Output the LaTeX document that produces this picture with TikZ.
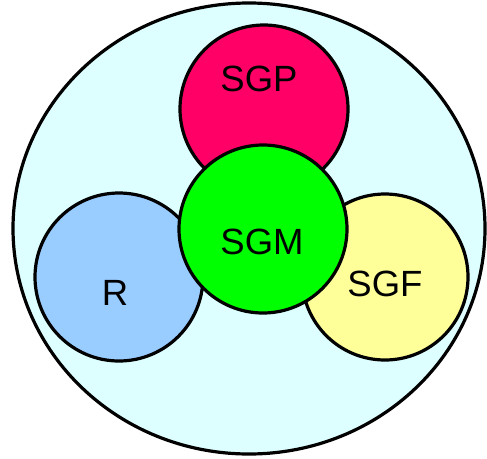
\documentclass[tikz,border=0pt]{standalone}
\usepackage{fontspec}
\setmainfont{Liberation Sans}
\usepackage{tikz}

\definecolor{outercyan}{RGB}{221,255,255}
\definecolor{sgpred}{RGB}{255,0,102}
\definecolor{sgmgreen}{RGB}{0,255,0}
\definecolor{rblue}{RGB}{153,204,255}
\definecolor{sgfyellow}{RGB}{255,255,153}

\tikzset{
  ball/.style={circle,draw=black,line width=3.2pt,minimum size=168pt,inner sep=0pt},
  tag/.style={font=\fontsize{36.5}{40}\selectfont,inner sep=0pt}
}

\begin{document}
\begin{tikzpicture}[x=1pt,y=-1pt]
\useasboundingbox (0,0) rectangle (487,458);
\filldraw[fill=outercyan,line width=3.2pt] (249,228.5) ellipse [x radius=236, y radius=225.5];
\node[ball,fill=sgpred] (sgp) at (264,109) {};
\node[ball,fill=rblue] (r) at (119,277) {};
\node[ball,fill=sgfyellow,minimum size=166pt] (sgf) at (385,277) {};
\node[ball,fill=sgmgreen] (sgm) at (263,229) {};
\node[tag] (sgptext) at (259,79) {SGP};
\node[tag] (sgmtext) at (262,242) {SGM};
\node[tag] (rtext) at (115,293) {R};
\node[tag] (sgftext) at (385,284) {SGF};
\end{tikzpicture}
\end{document}
